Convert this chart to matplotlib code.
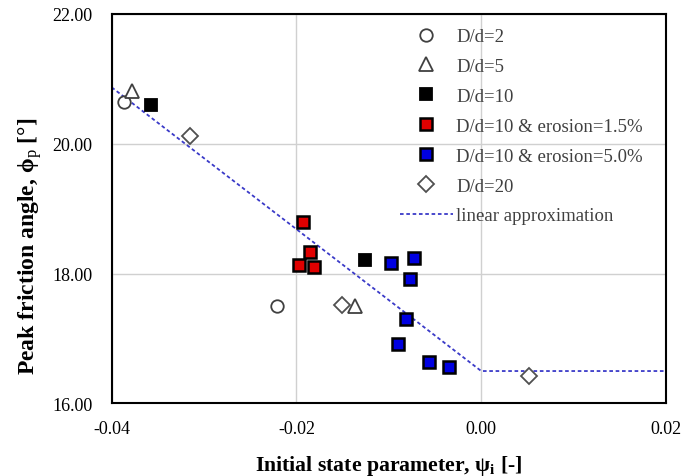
import matplotlib
matplotlib.use("Agg")
import matplotlib.pyplot as plt

plt.rcParams['font.family'] = ['Liberation Serif', 'DejaVu Serif']
plt.rcParams['mathtext.fontset'] = 'custom'
plt.rcParams['mathtext.rm'] = 'Liberation Serif'
plt.rcParams['mathtext.it'] = 'Liberation Serif:italic'
plt.rcParams['mathtext.bf'] = 'Liberation Serif:bold'

# state parameter psi_i and peak friction angle for each test series
dd2_x = [-0.0387, -0.0221]
dd2_y = [20.64, 17.50]
dd5_x = [-0.0378, -0.0137]
dd5_y = [20.82, 17.50]
dd10_x = [-0.0357, -0.0126]
dd10_y = [20.60, 18.21]
ero15_x = [-0.0193, -0.0185, -0.0197, -0.0181]
ero15_y = [18.79, 18.34, 18.14, 18.11]
ero50_x = [-0.0098, -0.0073, -0.0077, -0.0081, -0.0090, -0.0057, -0.0035]
ero50_y = [18.16, 18.24, 17.91, 17.30, 16.92, 16.64, 16.56]
dd20_x = [-0.0315, -0.0151, 0.0052]
dd20_y = [20.12, 17.52, 16.43]

# bilinear fit: sloped part up to psi=0, then constant
fit_x = [-0.04, 0.0, 0.02]
fit_y = [20.87, 16.50, 16.50]

fig = plt.figure(figsize=(6.83, 4.77), dpi=100)
ax = fig.add_axes([0.1635, 0.152, 0.8116, 0.8166])

ms = 9
ax.plot(dd2_x, dd2_y, 'o', ms=ms, mfc='white', mec='#404040', mew=1.3, ls='none', label='D/d=2', zorder=3)
ax.plot(dd5_x, dd5_y, '^', ms=ms + 1, mfc='white', mec='#404040', mew=1.3, ls='none', label='D/d=5', zorder=3)
ax.plot(dd10_x, dd10_y, 's', ms=ms, mfc='black', mec='black', mew=1.3, ls='none', label='D/d=10', zorder=3)
ax.plot(ero15_x, ero15_y, 's', ms=ms, mfc='#e00000', mec='black', mew=1.8, ls='none', label='D/d=10 & erosion=1.5%', zorder=3)
ax.plot(ero50_x, ero50_y, 's', ms=ms, mfc='#0000e0', mec='black', mew=1.8, ls='none', label='D/d=10 & erosion=5.0%', zorder=3)
ax.plot(dd20_x, dd20_y, 'D', ms=ms - 1, mfc='white', mec='#505050', mew=1.3, ls='none', label='D/d=20', zorder=3)
ax.plot(fit_x, fit_y, color='#3a3ac8', lw=1.3, ls=(0, (2, 1.5)), label='linear approximation', zorder=2)

ax.set_xlim(-0.04, 0.02)
ax.set_ylim(16, 22)
ax.set_xticks([-0.04, -0.02, 0.00, 0.02])
ax.set_yticks([16, 18, 20, 22])
ax.set_xticklabels(['-0.04', '-0.02', '0.00', '0.02'])
ax.set_yticklabels(['16.00', '18.00', '20.00', '22.00'])
ax.tick_params(axis='y', length=0, labelsize=13, pad=14)
ax.tick_params(axis='x', length=0, labelsize=13, pad=12)
ax.grid(True, color='#d0d0d0', lw=1)
ax.set_axisbelow(True)
for s in ax.spines.values():
    s.set_linewidth(1.5)
    s.set_color('black')

ax.set_xlabel(r'Initial state parameter, $\mathbf{\psi_i}$ [-]', fontsize=15.7, fontweight='bold', va='center')
ax.set_ylabel(r'Peak friction angle, ϕ$_\mathrm{p}$ [°]', fontsize=17, fontweight='bold', va='center')
ax.xaxis.set_label_coords(0.5, -0.157)
ax.yaxis.set_label_coords(-0.148, 0.407)

ax.legend(loc='upper left', bbox_to_anchor=(400 / 683, 1 - 29 / 477), bbox_transform=fig.transFigure,
          frameon=False, fontsize=13.5, borderpad=0, borderaxespad=0,
          handlelength=2.8, handletextpad=0.2, labelspacing=0.68, labelcolor='#404040')

fig.savefig('out.png', dpi=100)
